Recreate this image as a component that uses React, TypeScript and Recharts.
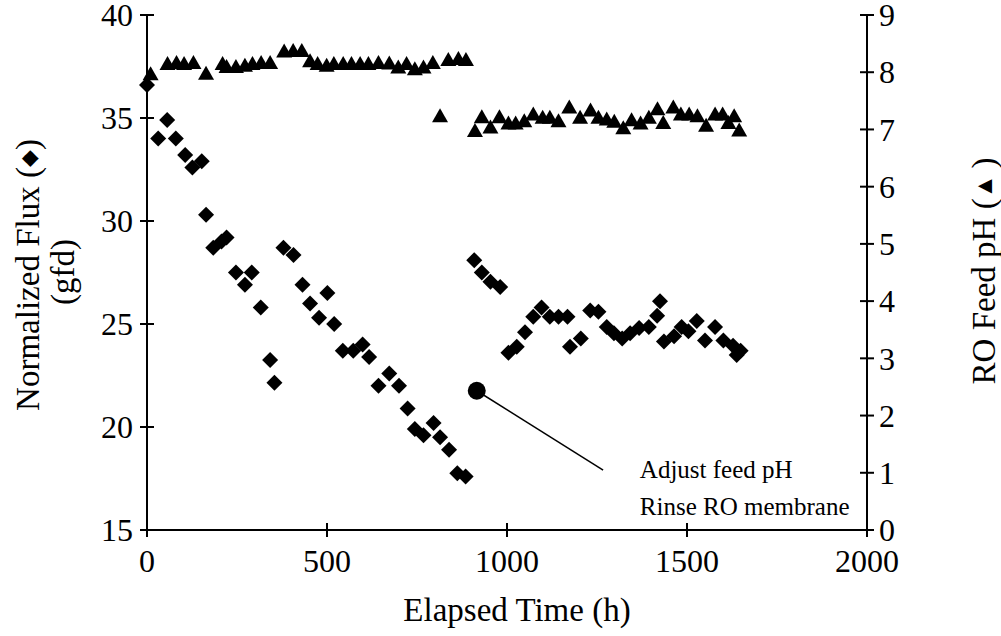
import {
  ScatterChart,
  Scatter,
  XAxis,
  YAxis,
  Label,
  ReferenceLine,
  ReferenceDot,
} from 'recharts';

// Normalized flux (gfd) vs elapsed time (h)
const fluxHours = [
  0, 31, 56, 80, 106, 126, 152, 164, 184, 207, 221, 247, 272, 291, 316, 342, 354,
  379, 407, 432, 453, 478, 501, 520, 544, 573, 599, 617, 643, 673, 700, 724, 744,
  768, 796, 814, 839, 862, 885,
  909, 930, 954, 981, 1004, 1027, 1050, 1073, 1096, 1119, 1143, 1168, 1175, 1205,
  1231, 1254, 1277, 1297, 1320, 1342, 1367, 1394, 1417, 1425, 1436, 1464, 1485,
  1504, 1527, 1550, 1578, 1601, 1628, 1638, 1649,
];
const fluxValues = [
  36.6, 34.0, 34.9, 34.0, 33.2, 32.6, 32.9, 30.3, 28.7, 29.0, 29.2, 27.5, 26.9, 27.5,
  25.8, 23.25, 22.15, 28.7, 28.35, 26.9, 26.0, 25.3, 26.5, 25.0, 23.7, 23.7, 24.0,
  23.4, 22.0, 22.6, 22.0, 20.9, 19.9, 19.6, 20.2, 19.5, 18.9, 17.75, 17.6,
  28.1, 27.5, 27.05, 26.8, 23.6, 23.9, 24.6, 25.35, 25.8, 25.35, 25.35, 25.35, 23.9,
  24.3, 25.65, 25.6, 24.85, 24.55, 24.3, 24.55, 24.8, 24.85, 25.4, 26.1, 24.15,
  24.4, 24.85, 24.65, 25.15, 24.2, 24.85, 24.2, 23.95, 23.5, 23.7,
];

// RO feed pH vs elapsed time (h)
const phHours = [
  10, 57, 82, 103, 129, 164, 210, 221, 247, 272, 293, 317, 342, 381, 406, 430, 453,
  474, 499, 519, 545, 568, 592, 615, 643, 673, 698, 721, 744, 768, 794, 814, 837,
  865, 886,
  911, 930, 954, 979, 1004, 1024, 1048, 1073, 1099, 1119, 1143, 1173, 1203, 1232,
  1254, 1277, 1298, 1323, 1346, 1371, 1394, 1418, 1434, 1462, 1483, 1506, 1529,
  1553, 1578, 1599, 1615, 1631, 1645,
];
const phValues = [
  7.98, 8.16, 8.18, 8.16, 8.18, 7.99, 8.16, 8.11, 8.11, 8.13, 8.16, 8.18, 8.18, 8.38,
  8.39, 8.39, 8.21, 8.16, 8.13, 8.16, 8.16, 8.16, 8.16, 8.16, 8.18, 8.17, 8.1, 8.16,
  8.07, 8.1, 8.18, 7.25, 8.23, 8.25, 8.23,
  6.99, 7.23, 7.05, 7.23, 7.12, 7.12, 7.16, 7.28, 7.22, 7.22, 7.16, 7.4, 7.22, 7.35,
  7.22, 7.19, 7.15, 7.04, 7.18, 7.12, 7.22, 7.37, 7.13, 7.4, 7.28, 7.28, 7.25, 7.08,
  7.28, 7.28, 7.13, 7.25, 7.0,
];

const xTicks = [0, 500, 1000, 1500, 2000];
const fluxTicks = [15, 20, 25, 30, 35, 40];
const phTicks = [0, 1, 2, 3, 4, 5, 6, 7, 8, 9];

// annotation: marker where pH was adjusted, pointer line, note text
const notePoint = { h: 916, v: 21.76 };
const noteLineEnd = { h: 1267, v: 17.91 };
const noteTextAt = { h: 1369, v: 17.52 };
const noteLines = ['Adjust feed pH', 'Rinse RO membrane'];

const fluxData = fluxHours.map((h, i) => ({ h, v: fluxValues[i] }));
const phData = phHours.map((h, i) => ({ h, v: phValues[i] }));

const FONT = '"Liberation Serif", "Times New Roman", serif';

const Diamond = (props: any) => {
  const { cx, cy } = props;
  if (cx == null || cy == null) return null;
  return (
    <polygon
      points={`${cx},${cy - 8} ${cx + 8},${cy} ${cx},${cy + 8} ${cx - 8},${cy}`}
      fill="#000"
    />
  );
};

const Triangle = (props: any) => {
  const { cx, cy } = props;
  if (cx == null || cy == null) return null;
  return (
    <polygon
      points={`${cx},${cy - 7} ${cx + 8},${cy + 7} ${cx - 8},${cy + 7}`}
      fill="#000"
    />
  );
};

const LeftTick = ({ x, y, payload }: any) => (
  <g>
    <line x1={x - 7} x2={x + 7} y1={y} y2={y} stroke="#000" strokeWidth={2} />
    <text x={x - 14} y={y} dy="0.35em" textAnchor="end" fontSize={32} fontFamily={FONT} fill="#000">
      {payload.value}
    </text>
  </g>
);

const RightTick = ({ x, y, payload }: any) => (
  <g>
    <line x1={x - 7} x2={x + 7} y1={y} y2={y} stroke="#000" strokeWidth={2} />
    <text x={x + 12} y={y} dy="0.35em" textAnchor="start" fontSize={32} fontFamily={FONT} fill="#000">
      {payload.value}
    </text>
  </g>
);

const BottomTick = ({ x, y, payload }: any) => (
  <g>
    <line x1={x} x2={x} y1={y - 7} y2={y + 7} stroke="#000" strokeWidth={2} />
    <text x={x} y={y + 42} textAnchor="middle" fontSize={32} fontFamily={FONT} fill="#000">
      {payload.value}
    </text>
  </g>
);

const NoteText = (props: any) => {
  const { cx, cy } = props;
  if (cx == null || cy == null) return null;
  return (
    <g>
      {noteLines.map((t, i) => (
        <text key={t} x={cx} y={cy + i * 37} fontSize={25} fontFamily={FONT} fill="#000">
          {t}
        </text>
      ))}
    </g>
  );
};

export default function App() {
  return (
    <div style={{ position: 'absolute', left: 0, top: 0, width: 1001, height: 636, background: '#fff' }}>
      <ScatterChart width={1001} height={636} margin={{ top: 15, right: 74, bottom: 76, left: 87 }}>
        <XAxis
          type="number"
          dataKey="h"
          domain={[0, 2000]}
          ticks={xTicks}
          tick={<BottomTick />}
          tickLine={false}
          tickSize={0}
          tickMargin={0}
          height={30}
          axisLine={{ stroke: '#000', strokeWidth: 2 }}
        >
          <Label
            content={() => (
              <text x={517} y={621} textAnchor="middle" fontSize={33} fontFamily={FONT} fill="#000">
                Elapsed Time (h)
              </text>
            )}
          />
        </XAxis>
        <YAxis
          yAxisId="flux"
          type="number"
          dataKey="v"
          domain={[15, 40]}
          ticks={fluxTicks}
          tick={<LeftTick />}
          tickLine={false}
          tickSize={0}
          tickMargin={0}
          width={60}
          axisLine={{ stroke: '#000', strokeWidth: 2 }}
        >
          <Label
            content={() => (
              <g fontSize={33} fontFamily={FONT} fill="#000">
                <text x={28} y={275} transform="rotate(-90, 28, 275)" textAnchor="middle" dominantBaseline="central">
                  Normalized Flux (<tspan fontSize={22}>◆</tspan>)
                </text>
                <text x={63} y={272} transform="rotate(-90, 63, 272)" textAnchor="middle" dominantBaseline="central">
                  (gfd)
                </text>
              </g>
            )}
          />
        </YAxis>
        <YAxis
          yAxisId="ph"
          orientation="right"
          type="number"
          dataKey="v"
          domain={[0, 9]}
          ticks={phTicks}
          tick={<RightTick />}
          tickLine={false}
          tickSize={0}
          tickMargin={0}
          width={60}
          axisLine={{ stroke: '#000', strokeWidth: 2 }}
        >
          <Label
            content={() => (
              <text
                x={984}
                y={271}
                transform="rotate(-90, 984, 271)"
                textAnchor="middle"
                dominantBaseline="central"
                fontSize={33}
                fontFamily={FONT}
                fill="#000"
              >
                RO Feed pH (<tspan fontSize={24}>▲ </tspan>)
              </text>
            )}
          />
        </YAxis>
        <Scatter yAxisId="flux" data={fluxData} shape={<Diamond />} isAnimationActive={false} />
        <Scatter yAxisId="ph" data={phData} shape={<Triangle />} isAnimationActive={false} />
        <ReferenceLine
          yAxisId="flux"
          segment={[
            { x: notePoint.h, y: notePoint.v },
            { x: noteLineEnd.h, y: noteLineEnd.v },
          ]}
          stroke="#000"
          strokeWidth={1.5}
        />
        <ReferenceDot yAxisId="flux" x={notePoint.h} y={notePoint.v} r={9} fill="#000" stroke="none" />
        <ReferenceDot yAxisId="flux" x={noteTextAt.h} y={noteTextAt.v} shape={<NoteText />} />
      </ScatterChart>
    </div>
  );
}
